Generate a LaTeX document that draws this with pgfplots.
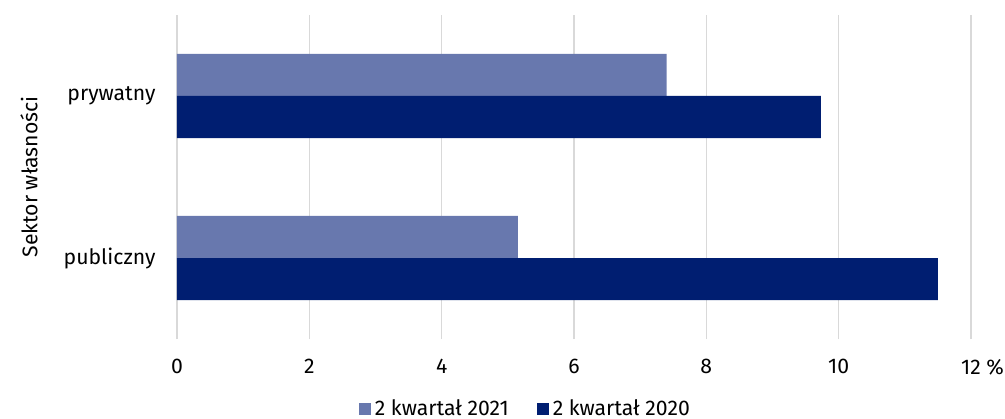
\documentclass[border=0pt]{standalone}
\usepackage{pgfplots}
\pgfplotsset{compat=1.18}
\usepackage{fontspec}
\setmainfont{Fira Sans}
\definecolor{lightbar}{HTML}{6878AE}
\definecolor{darkbar}{HTML}{001E71}
\definecolor{gridgrey}{HTML}{D9D9D9}
\newcommand{\chartfont}{\fontsize{10.6bp}{12.7bp}\selectfont}
\begin{document}
\chartfont
\begin{tikzpicture}
\path[use as bounding box] (-88.5bp,-40bp) rectangle (414bp,169.5bp);
\begin{axis}[
  at={(0,0)}, anchor=south west,
  scale only axis, width=397bp, height=162bp,
  xbar, bar width=0.26,
  xmin=0, xmax=12, ymin=-0.5, ymax=1.5,
  xtick={0,2,...,12},
  xticklabels={0,2,4,6,8,10,12\rlap{ \%}},
  ytick={0,1}, yticklabels={publiczny,prywatny},
  major tick length=0pt,
  axis line style={draw=none},
  xmajorgrids, major grid style={gridgrey, line width=0.75bp},
  /pgf/number format/assume math mode=true,
  tick label style={font=\chartfont},
  xticklabel style={yshift=-6.5bp},
  yticklabel style={xshift=-7bp},
  ylabel={Sektor własności},
  every axis y label/.style={at={(axis description cs:-0.1864,0.5)}, rotate=90, anchor=center, font=\chartfont},
  legend style={at={(axis description cs:0.44,-0.215)}, anchor=center, draw=none,
    legend columns=2, font=\chartfont,
    /tikz/every even column/.append style={column sep=12bp}},
  legend image code/.code={\fill[#1] (0bp,-3bp) rectangle (6bp,3bp);},
]
\addplot[fill=lightbar, draw=none, bar shift=0.13] coordinates {(5.15,0) (7.4,1)};
\addlegendentry{2 kwartał 2021}
\addplot[fill=darkbar, draw=none, bar shift=-0.13] coordinates {(11.5,0) (9.73,1)};
\addlegendentry{2 kwartał 2020}
\end{axis}
\end{tikzpicture}
\end{document}
